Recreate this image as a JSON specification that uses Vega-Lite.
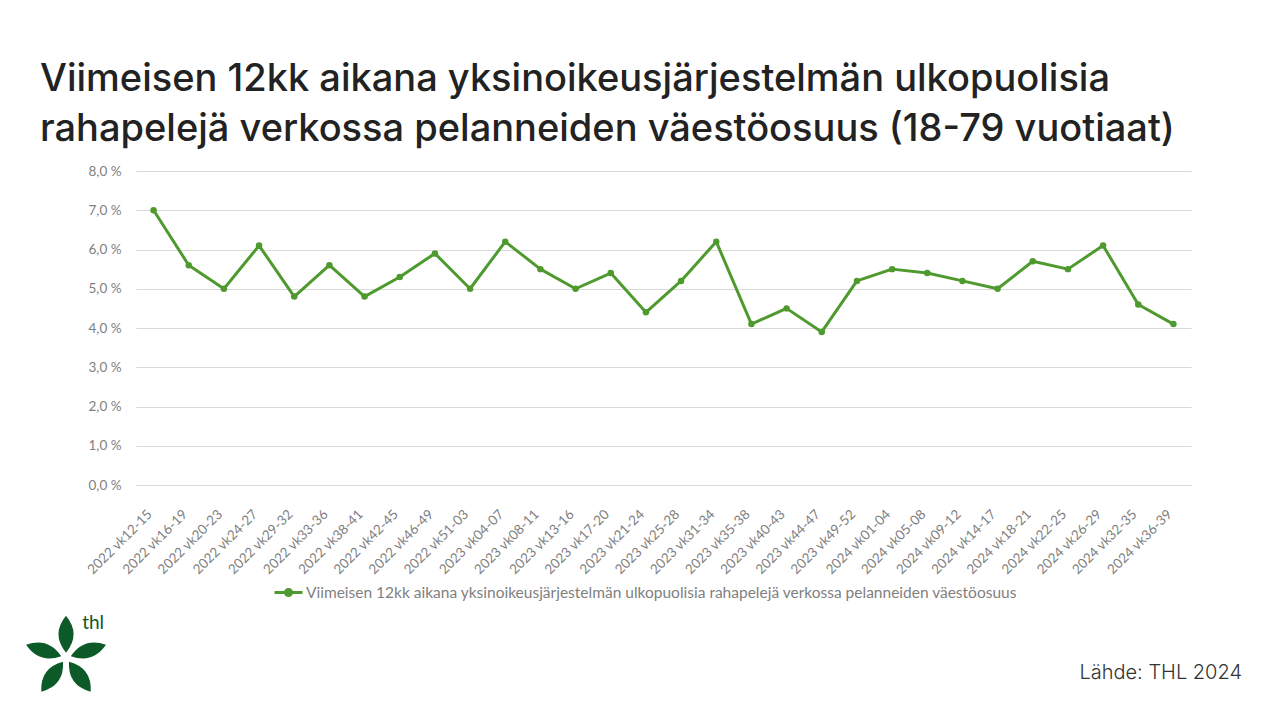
{
  "$schema": "https://vega.github.io/schema/vega-lite/v6.json",
  "width": 1055,
  "height": 314,
  "autosize": {"type": "none"},
  "padding": {"left": 136, "top": 171, "right": 89, "bottom": 235},
  "background": "white",
  "config": {"view": {"stroke": null}},
  "title": {
    "text": ["Viimeisen 12kk aikana yksinoikeusjärjestelmän ulkopuolisia", "rahapelejä verkossa pelanneiden väestöosuus (18-79 vuotiaat)"],
    "anchor": "start",
    "frame": "group",
    "dx": -96,
    "offset": 15,
    "font": "Inter",
    "fontSize": 38,
    "fontWeight": 500,
    "lineHeight": 50,
    "color": "#222222"
  },
  "layer": [
    {
      "data": {
        "values": [
          {"period": "2022 vk12-15", "value": 7.0},
          {"period": "2022 vk16-19", "value": 5.6},
          {"period": "2022 vk20-23", "value": 5.0},
          {"period": "2022 vk24-27", "value": 6.1},
          {"period": "2022 vk29-32", "value": 4.8},
          {"period": "2022 vk33-36", "value": 5.6},
          {"period": "2022 vk38-41", "value": 4.8},
          {"period": "2022 vk42-45", "value": 5.3},
          {"period": "2022 vk46-49", "value": 5.9},
          {"period": "2022 vk51-03", "value": 5.0},
          {"period": "2023 vk04-07", "value": 6.2},
          {"period": "2023 vk08-11", "value": 5.5},
          {"period": "2023 vk13-16", "value": 5.0},
          {"period": "2023 vk17-20", "value": 5.4},
          {"period": "2023 vk21-24", "value": 4.4},
          {"period": "2023 vk25-28", "value": 5.2},
          {"period": "2023 vk31-34", "value": 6.2},
          {"period": "2023 vk35-38", "value": 4.1},
          {"period": "2023 vk40-43", "value": 4.5},
          {"period": "2023 vk44-47", "value": 3.9},
          {"period": "2023 vk49-52", "value": 5.2},
          {"period": "2024 vk01-04", "value": 5.5},
          {"period": "2024 vk05-08", "value": 5.4},
          {"period": "2024 vk09-12", "value": 5.2},
          {"period": "2024 vk14-17", "value": 5.0},
          {"period": "2024 vk18-21", "value": 5.7},
          {"period": "2024 vk22-25", "value": 5.5},
          {"period": "2024 vk26-29", "value": 6.1},
          {"period": "2024 vk32-35", "value": 4.6},
          {"period": "2024 vk36-39", "value": 4.1}
        ]
      },
      "encoding": {
        "x": {
          "field": "period",
          "type": "nominal",
          "sort": null,
          "scale": {"type": "point", "padding": 0.5},
          "axis": {
            "title": null,
            "labelAngle": -45,
            "labelAlign": "right",
            "labelBaseline": "top",
            "labelPadding": 22,
            "labelOffset": -9,
            "labelFont": "Lato",
            "labelFontSize": 13.5,
            "labelColor": "#7f7f7f",
            "ticks": false,
            "domain": false,
            "grid": false
          }
        },
        "y": {
          "field": "value",
          "type": "quantitative",
          "scale": {"domain": [0, 8], "nice": false, "zero": true},
          "axis": {
            "title": null,
            "values": [0, 1, 2, 3, 4, 5, 6, 7, 8],
            "labelExpr": "replace(format(datum.value, '.1f'), '.', ',') + ' %'",
            "labelFont": "Lato",
            "labelFontSize": 13.5,
            "labelColor": "#7f7f7f",
            "labelPadding": 15,
            "ticks": false,
            "domain": false,
            "grid": true,
            "gridColor": "#d9d9d9",
            "gridWidth": 1
          }
        }
      },
      "layer": [
        {
          "mark": {"type": "line", "strokeWidth": 3, "strokeJoin": "round"},
          "encoding": {
            "color": {
              "datum": "Viimeisen 12kk aikana yksinoikeusjärjestelmän ulkopuolisia rahapelejä verkossa pelanneiden väestöosuus",
              "type": "nominal",
              "scale": {"range": ["#4f9a2f"]},
              "legend": {
                "title": null,
                "orient": "none",
                "legendX": 137,
                "legendY": 406,
                "symbolType": "M-1,0L1,0M-0.22,0A0.22,0.22 0 1 0 0.22,0A0.22,0.22 0 1 0 -0.22,0Z",
                "symbolSize": 784,
                "symbolStrokeWidth": 3,
                "symbolFillColor": "#4f9a2f",
                "symbolStrokeColor": "#4f9a2f",
                "labelFont": "Lato",
                "labelFontSize": 15.5,
                "labelColor": "#7f7f7f",
                "labelOffset": 2,
                "labelLimit": 1000
              }
            }
          }
        },
        {
          "mark": {"type": "point", "filled": true, "size": 42, "opacity": 1},
          "encoding": {
            "color": {
              "datum": "Viimeisen 12kk aikana yksinoikeusjärjestelmän ulkopuolisia rahapelejä verkossa pelanneiden väestöosuus",
              "type": "nominal"
            }
          }
        }
      ]
    },
    {
      "data": {"values": [{"item": "logo"}]},
      "encoding": {
        "x": {"type": "quantitative", "scale": {"domain": [0, 30], "nice": false, "zero": false}, "axis": null},
        "y": {"type": "quantitative", "scale": {"domain": [0, 8], "nice": false}, "axis": null}
      },
      "layer": [
        {
          "mark": {
            "type": "point",
            "filled": true,
            "opacity": 1,
            "fill": "#0b5a27",
            "strokeWidth": 0,
            "size": 7056,
            "shape": "M0,-0.12 Q0.36,-0.56 0,-1 Q-0.36,-0.56 0,-0.12Z M0.114,-0.037 Q0.637,0.150 0.951,-0.309 Q0.428,-0.496 0.114,-0.037Z M0.071,0.097 Q0.038,0.664 0.588,0.809 Q0.621,0.242 0.071,0.097Z M-0.071,0.097 Q-0.621,0.242 -0.588,0.809 Q-0.038,0.664 -0.071,0.097Z M-0.114,-0.037 Q-0.428,-0.496 -0.951,-0.309 Q-0.637,0.150 -0.114,-0.037Z"
          },
          "encoding": {
            "x": {"datum": -1.99},
            "y": {"datum": -4.4}
          }
        },
        {
          "mark": {
            "type": "text",
            "text": "thl",
            "font": "Lato",
            "fontSize": 19,
            "fill": "#0b5a27",
            "align": "left",
            "baseline": "alphabetic"
          },
          "encoding": {
            "x": {"datum": -1.53},
            "y": {"datum": -3.67}
          }
        },
        {
          "mark": {
            "type": "text",
            "text": "Lähde:  THL 2024",
            "font": "Inter",
            "fontWeight": 300,
            "fontSize": 20,
            "fill": "#333333",
            "align": "right",
            "baseline": "alphabetic"
          },
          "encoding": {
            "x": {"datum": 31.45},
            "y": {"datum": -4.94}
          }
        }
      ]
    }
  ],
  "resolve": {"scale": {"x": "independent", "y": "independent", "color": "independent"}}
}
